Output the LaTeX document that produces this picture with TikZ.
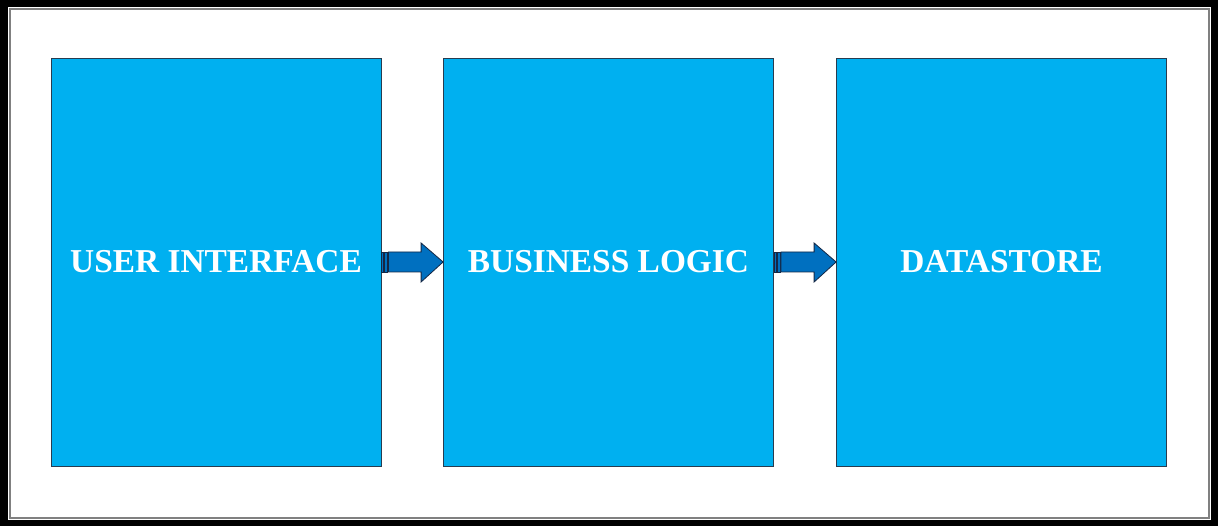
\documentclass[tikz,border=0pt]{standalone}
\usepackage{fontspec}
\setmainfont{Liberation Serif}
\usetikzlibrary{calc}

\definecolor{layerblue}{RGB}{0,176,240}
\definecolor{arrowblue}{RGB}{0,112,192}
\definecolor{arrowedge}{RGB}{20,40,70}
\definecolor{boxedge}{RGB}{40,60,80}

\tikzset{
    layerbox/.style = {draw = boxedge, line width = 0.8pt, fill = layerblue,
        minimum width = 330pt, minimum height = 408pt, inner sep = 0pt,
        text = white, font = \fontsize{33.4}{40}\selectfont\bfseries},
    arrowbody/.style = {draw = arrowedge, line width = 0.8pt, fill = arrowblue}
}

% striped block arrow from the east side of #1 to the west side of #2
\newcommand{\stripedarrow}[2]{
    \draw [arrowbody] ($(#1.east)+(0,-10)$) rectangle ($(#1.east)+(2,10)$);
    \draw [arrowbody] ($(#1.east)+(3,-10)$) rectangle ($(#1.east)+(6,10)$);
    \draw [arrowbody] ($(#1.east)+(7,-10)$) -- ($(#2.west)+(-22,-10)$)
        -- ($(#2.west)+(-22,-19)$) -- (#2.west) -- ($(#2.west)+(-22,20)$)
        -- ($(#2.west)+(-22,10)$) -- ($(#1.east)+(7,10)$) -- cycle;
}

\begin{document}
\begin{tikzpicture}[x = 1pt, y = -1pt]
        % frame
        \fill [black] (0,0) rectangle (1218,526);
        \fill [white] (8,7) rectangle (1211,520);
        \draw [gray, line width = 1.5pt] (10,9) rectangle (1209,518);
        % layers
        \node [layerbox] (ui) at (216,262) {USER INTERFACE};
        \node [layerbox] (bl) at (608.5,262) {BUSINESS LOGIC};
        \node [layerbox] (ds) at (1001.5,262) {DATASTORE};
        % arrows
        \stripedarrow{ui}{bl}
        \stripedarrow{bl}{ds}
    \end{tikzpicture}
\end{document}
